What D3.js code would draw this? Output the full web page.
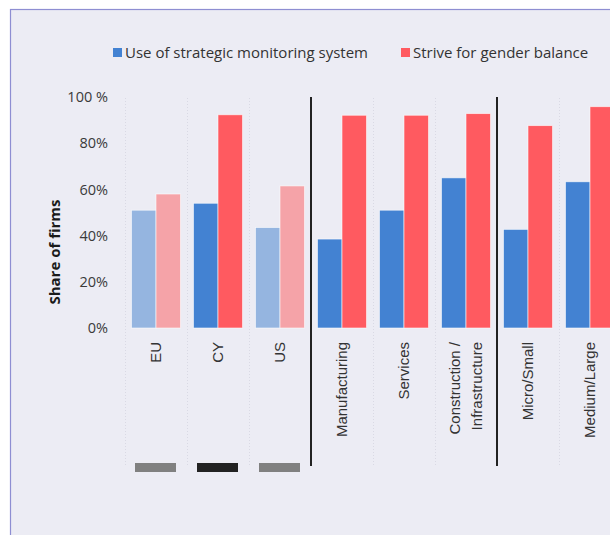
<!DOCTYPE html>
<html>
<head>
<meta charset="utf-8">
<script src="https://cdn.jsdelivr.net/npm/d3@7"></script>
<style>
  html, body { margin: 0; padding: 0; background: #ffffff; }
  svg { display: block; font-family: "Open Sans", "Noto Sans", sans-serif; }
</style>
</head>
<body>
<svg id="chart" width="610" height="535"></svg>
<script>
// Categories and series values (share of firms, %)
const categories = ["EU", "CY", "US", "Manufacturing", "Services", "Construction /\nInfrastructure", "Micro/Small", "Medium/Large"];
const monitoring = [51, 54, 43.5, 38.5, 51, 65, 42.7, 63.3];
const genderBalance = [58, 92.3, 61.5, 92.1, 92.1, 92.8, 87.6, 95.8];
const seriesNames = ["Use of strategic monitoring system", "Strive for gender balance"];
const yTicks = [0, 20, 40, 60, 80, 100];
const yTickLabels = ["0%", "20%", "40%", "60%", "80%", "100 %"];
// Country comparison: the focus country is drawn solid, benchmarks faded
const focusCategories = ["CY"];
const countryCategories = ["EU", "CY", "US"];
// Group separators sit before these categories
const groupStarts = ["Manufacturing", "Micro/Small"];

const colors = {
  monitoring: "#4382d2", monitoringFaded: "#95b5e0",
  gender: "#ff5a60", genderFaded: "#f5a3a8"
};

const svg = d3.select("#chart");

// panel background with frame
svg.append("rect")
  .attr("x", 10.5).attr("y", 9.5)
  .attr("width", 700).attr("height", 700)
  .attr("fill", "#ececf4")
  .attr("stroke", "#8e8ed2").attr("stroke-width", 1.2);

const x = d3.scaleBand().domain(categories).range([125, 621]).paddingInner(0).paddingOuter(0);
const xs = d3.scaleBand().domain(["m", "g"]).range([0, x.bandwidth()]).paddingInner(0).paddingOuter(0.265);
const y = d3.scaleLinear().domain([0, 100]).range([328, 97]);

const gridTop = 98, gridBottom = 466;

// dotted category boundaries
const boundaries = categories.map(c => x(c)).concat([x(categories[categories.length - 1]) + x.bandwidth()]);
svg.append("g").selectAll("line")
  .data(boundaries.filter((b, i) => !groupStarts.includes(categories[i])))
  .join("line")
  .attr("x1", d => d + 0.5).attr("x2", d => d + 0.5)
  .attr("y1", gridTop).attr("y2", gridBottom)
  .attr("stroke", "#d9d9e4").attr("stroke-width", 1)
  .attr("stroke-dasharray", "1,2");

// bars
const bars = svg.append("g");
categories.forEach((c, i) => {
  const faded = countryCategories.includes(c) && !focusCategories.includes(c);
  const rows = [
    { key: "m", v: monitoring[i], fill: faded ? colors.monitoringFaded : colors.monitoring },
    { key: "g", v: genderBalance[i], fill: faded ? colors.genderFaded : colors.gender }
  ];
  bars.selectAll(null).data(rows).join("rect")
    .attr("x", d => x(c) + xs(d.key))
    .attr("y", d => y(d.v))
    .attr("width", xs.bandwidth())
    .attr("height", d => y(0) - y(d.v))
    .attr("fill", d => d.fill)
    .attr("stroke", "#ffffff").attr("stroke-opacity", 0.7).attr("stroke-width", 0.8);
});

// group separators
svg.append("g").selectAll("line")
  .data(groupStarts)
  .join("line")
  .attr("x1", d => x(d)).attr("x2", d => x(d))
  .attr("y1", gridTop - 1).attr("y2", gridBottom)
  .attr("stroke", "#222222").attr("stroke-width", 2);

// y axis
const yAxis = d3.axisLeft(y).tickValues(yTicks)
  .tickFormat((d, i) => yTickLabels[i]).tickSize(0).tickPadding(0);
const yg = svg.append("g").attr("transform", "translate(108,0)").call(yAxis);
yg.select(".domain").remove();
yg.selectAll("text")
  .attr("font-family", "'Open Sans', sans-serif")
  .attr("font-size", 14.5).attr("fill", "#3a3a3a");

svg.append("text")
  .attr("transform", "translate(60,252) rotate(-90)")
  .attr("text-anchor", "middle")
  .attr("font-size", 15).attr("font-weight", "bold").attr("fill", "#1a1a1a")
  .text("Share of firms");

// x labels (rotated)
const xAxis = d3.axisBottom(x).tickSize(0).tickFormat("");
const xg = svg.append("g").attr("transform", "translate(0,342)").call(xAxis);
xg.select(".domain").remove();
xg.selectAll(".tick").each(function (d) {
  const lines = d.split("\n");
  const t = d3.select(this).append("text")
    .attr("transform", "rotate(-90)")
    .attr("text-anchor", "end")
    .attr("font-size", 15).attr("fill", "#333333");
  lines.forEach((ln, k) => {
    t.append("tspan")
      .attr("x", 0)
      .attr("y", (k - (lines.length - 1) / 2) * 22 + 5)
      .text(ln);
  });
});

// country markers under the country labels
svg.append("g").selectAll("rect")
  .data(countryCategories)
  .join("rect")
  .attr("x", d => x(d) + 10)
  .attr("y", 463)
  .attr("width", x.bandwidth() - 21)
  .attr("height", 9)
  .attr("fill", d => focusCategories.includes(d) ? "#222222" : "#808080");

// legend
const legendItems = [
  { name: seriesNames[0], color: colors.monitoring, x: 113 },
  { name: seriesNames[1], color: colors.gender, x: 401 }
];
const lg = svg.append("g").selectAll("g").data(legendItems).join("g")
  .attr("transform", d => `translate(${d.x},47)`);
lg.append("rect").attr("width", 9).attr("height", 9).attr("y", 1).attr("fill", d => d.color);
lg.append("text").attr("x", 12).attr("y", 10.5)
  .attr("font-size", 15).attr("fill", "#333333")
  .text(d => d.name);
</script>
</body>
</html>
